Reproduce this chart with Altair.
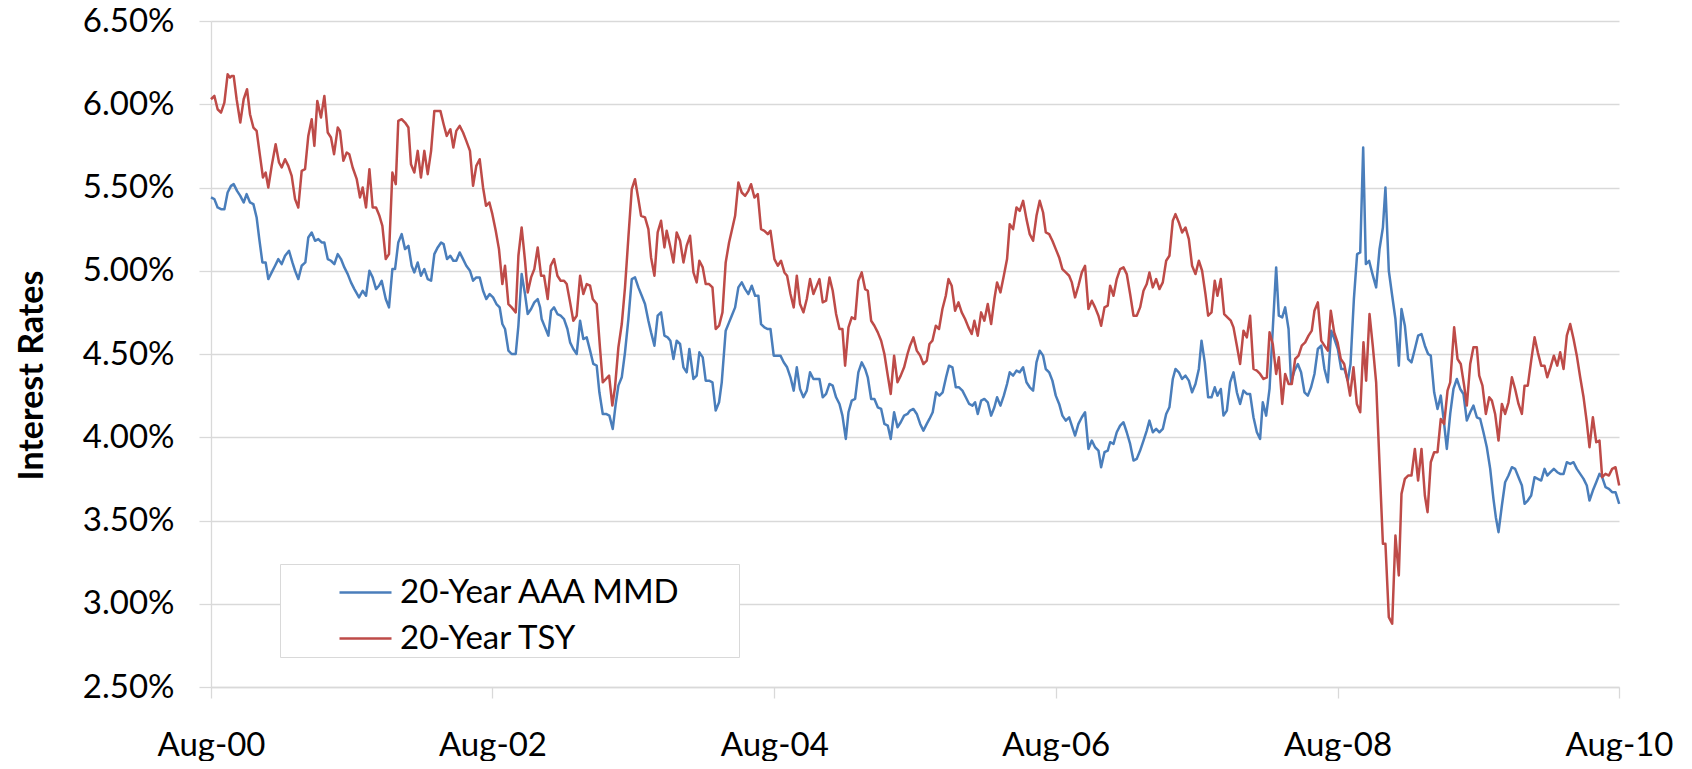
import altair as alt
import pandas as pd

SERIES = ["20-Year AAA MMD", "20-Year TSY"]
COLORS = ["#4A7EBB", "#BE4B48"]
START = "2000-08-01"
TICK_YEARS = [2000, 2002, 2004, 2006, 2008, 2010]
Y_TICKS = [2.5, 3.0, 3.5, 4.0, 4.5, 5.0, 5.5, 6.0, 6.5]
FONT = "Lato"

# years elapsed since Aug-00
MMD_YEARS = [
    0.0, 0.024, 0.047, 0.071, 0.095, 0.118, 0.142, 0.161, 0.185, 0.208, 0.232, 0.253, 0.277, 0.301, 0.324,
    0.343, 0.365, 0.388, 0.407, 0.431, 0.455, 0.478, 0.502, 0.526, 0.554, 0.578, 0.597, 0.620, 0.644, 0.670,
    0.691, 0.715, 0.739, 0.762, 0.786, 0.805, 0.829, 0.852, 0.876, 0.900, 0.923, 0.947, 0.971, 0.994, 1.018,
    1.051, 1.077, 1.101, 1.125, 1.148, 1.172, 1.193, 1.212, 1.241, 1.264,
    1.288, 1.307, 1.330, 1.354, 1.378, 1.402, 1.425, 1.444, 1.468, 1.491, 1.515, 1.539, 1.563, 1.586, 1.610,
    1.634, 1.652, 1.676, 1.700, 1.721, 1.742, 1.766, 1.790, 1.813, 1.839, 1.861, 1.884, 1.908, 1.932, 1.955,
    1.979, 2.003, 2.027, 2.050, 2.069, 2.088, 2.112, 2.135, 2.164, 2.183, 2.206, 2.230, 2.249, 2.273, 2.296,
    2.320, 2.337, 2.348, 2.372, 2.396, 2.415, 2.436, 2.460, 2.483, 2.507, 2.531, 2.550,
    2.573, 2.597, 2.621, 2.644, 2.668, 2.692, 2.715, 2.739, 2.758, 2.782, 2.805, 2.829, 2.853, 2.874, 2.893,
    2.917, 2.940, 2.964, 2.988, 3.011, 3.035, 3.059, 3.082, 3.106, 3.125, 3.149, 3.172, 3.196, 3.220, 3.243,
    3.262, 3.284, 3.307, 3.331, 3.355, 3.378, 3.397, 3.426, 3.449, 3.468, 3.492, 3.513, 3.537, 3.561, 3.584,
    3.608, 3.627, 3.655, 3.679, 3.698, 3.722, 3.745, 3.769, 3.793, 3.816,
    3.840, 3.864, 3.887, 3.906, 3.930, 3.954, 3.973, 3.996, 4.020, 4.044, 4.067, 4.091, 4.115, 4.138, 4.160,
    4.183, 4.207, 4.231, 4.254, 4.278, 4.297, 4.321, 4.344, 4.368, 4.392, 4.415, 4.439, 4.463, 4.484, 4.508,
    4.527, 4.550, 4.574, 4.597, 4.621, 4.645, 4.664, 4.688, 4.711, 4.735, 4.759, 4.782, 4.806, 4.827, 4.851,
    4.875, 4.898, 4.922, 4.946, 4.964, 4.988, 5.012, 5.036, 5.059, 5.083, 5.102,
    5.125, 5.149, 5.173, 5.196, 5.220, 5.241, 5.265, 5.289, 5.312, 5.336, 5.360, 5.384, 5.407, 5.426, 5.445,
    5.469, 5.492, 5.516, 5.540, 5.563, 5.582, 5.606, 5.630, 5.653, 5.672, 5.696, 5.720, 5.743, 5.767, 5.791,
    5.814, 5.838, 5.862, 5.885, 5.909, 5.928, 5.952, 5.975, 5.999, 6.023, 6.046, 6.070, 6.094, 6.113, 6.136,
    6.160, 6.184, 6.207, 6.231, 6.255, 6.278, 6.302, 6.321, 6.345, 6.368, 6.385,
    6.409, 6.432, 6.456, 6.480, 6.503, 6.527, 6.551, 6.574, 6.598, 6.622, 6.645, 6.664, 6.688, 6.712, 6.735,
    6.759, 6.783, 6.806, 6.830, 6.849, 6.873, 6.896, 6.920, 6.944, 6.967, 6.991, 7.015, 7.034, 7.057, 7.081,
    7.105, 7.128, 7.147, 7.171, 7.190, 7.214, 7.237, 7.261, 7.285, 7.308, 7.332, 7.356, 7.379, 7.403, 7.427,
    7.450, 7.469, 7.493, 7.517, 7.540, 7.564, 7.583, 7.607,
    7.628, 7.652, 7.670, 7.694, 7.718, 7.741, 7.765, 7.789, 7.812, 7.836, 7.860, 7.884, 7.907, 7.931, 7.955,
    7.978, 8.002, 8.026, 8.049, 8.073, 8.092, 8.116, 8.139, 8.161, 8.182, 8.201, 8.224, 8.248, 8.274, 8.298,
    8.322, 8.340, 8.364, 8.388, 8.411, 8.435, 8.454, 8.478, 8.501, 8.525, 8.549, 8.572, 8.596, 8.620, 8.643,
    8.662, 8.686, 8.710, 8.733, 8.757, 8.776, 8.800, 8.823, 8.847, 8.871, 8.894, 8.918,
    8.942, 8.965, 8.989, 9.013, 9.036, 9.060, 9.084, 9.107, 9.124, 9.143, 9.167, 9.190, 9.214, 9.238, 9.261,
    9.285, 9.309, 9.328, 9.351, 9.375, 9.399, 9.422, 9.446, 9.470, 9.489, 9.512, 9.536, 9.560, 9.581, 9.605,
    9.628, 9.652, 9.676, 9.699, 9.723, 9.747, 9.770, 9.789, 9.813, 9.837, 9.860, 9.879, 9.903, 9.927, 9.950,
    9.974, 10.000,
]
MMD_RATES = [
    5.44, 5.43, 5.38, 5.37, 5.37, 5.47, 5.51, 5.52, 5.48, 5.45, 5.41, 5.46, 5.41, 5.40, 5.32,
    5.19, 5.05, 5.05, 4.95, 4.99, 5.03, 5.07, 5.04, 5.09, 5.12, 5.05, 5.00, 4.95, 5.03, 5.05,
    5.20, 5.23, 5.18, 5.19, 5.17, 5.17, 5.07, 5.06, 5.04, 5.10, 5.07, 5.02, 4.98, 4.93, 4.89,
    4.84, 4.88, 4.85, 5.00, 4.96, 4.89, 4.91, 4.94, 4.83, 4.78,
    5.01, 5.01, 5.17, 5.22, 5.13, 5.15, 5.03, 4.99, 5.05, 4.97, 5.01, 4.95, 4.94, 5.10, 5.14,
    5.17, 5.16, 5.07, 5.09, 5.06, 5.06, 5.11, 5.07, 5.03, 5.00, 4.94, 4.96, 4.96, 4.88, 4.83,
    4.86, 4.84, 4.80, 4.78, 4.68, 4.65, 4.52, 4.50, 4.50, 4.67, 4.98, 4.86, 4.74, 4.77, 4.81,
    4.83, 4.78, 4.71, 4.66, 4.61, 4.76, 4.78, 4.74, 4.73, 4.71, 4.65, 4.57,
    4.53, 4.50, 4.70, 4.59, 4.60, 4.52, 4.44, 4.43, 4.27, 4.14, 4.14, 4.13, 4.05, 4.20, 4.31,
    4.36, 4.51, 4.71, 4.95, 4.96, 4.90, 4.85, 4.80, 4.70, 4.63, 4.55, 4.73, 4.75, 4.61, 4.60,
    4.58, 4.47, 4.58, 4.56, 4.42, 4.39, 4.53, 4.35, 4.37, 4.51, 4.48, 4.34, 4.34, 4.33, 4.16,
    4.21, 4.33, 4.64, 4.69, 4.73, 4.78, 4.90, 4.93, 4.89, 4.86,
    4.91, 4.85, 4.85, 4.68, 4.66, 4.65, 4.65, 4.49, 4.49, 4.49, 4.45, 4.42, 4.36, 4.28, 4.42,
    4.29, 4.24, 4.28, 4.39, 4.35, 4.35, 4.35, 4.24, 4.26, 4.32, 4.31, 4.24, 4.20, 4.13, 3.99,
    4.15, 4.22, 4.23, 4.39, 4.45, 4.41, 4.36, 4.23, 4.23, 4.18, 4.17, 4.08, 4.07, 3.99, 4.15,
    4.06, 4.09, 4.13, 4.14, 4.16, 4.17, 4.14, 4.08, 4.04, 4.08, 4.11,
    4.15, 4.27, 4.25, 4.27, 4.36, 4.43, 4.42, 4.30, 4.30, 4.28, 4.24, 4.20, 4.19, 4.21, 4.14,
    4.22, 4.23, 4.21, 4.13, 4.18, 4.24, 4.19, 4.25, 4.32, 4.39, 4.37, 4.40, 4.39, 4.42, 4.33,
    4.30, 4.28, 4.45, 4.52, 4.49, 4.41, 4.39, 4.34, 4.25, 4.20, 4.13, 4.10, 4.12, 4.07, 4.01,
    4.08, 4.12, 4.15, 3.93, 3.98, 3.94, 3.92, 3.82, 3.91, 3.92, 3.97,
    3.96, 4.03, 4.07, 4.09, 4.03, 3.96, 3.86, 3.87, 3.92, 3.98, 4.04, 4.10, 4.03, 4.05, 4.03,
    4.05, 4.14, 4.18, 4.35, 4.41, 4.39, 4.35, 4.37, 4.34, 4.27, 4.32, 4.41, 4.58, 4.45, 4.24,
    4.24, 4.30, 4.25, 4.29, 4.13, 4.16, 4.33, 4.39, 4.27, 4.20, 4.28, 4.26, 4.26, 4.12, 4.03,
    3.99, 4.21, 4.13, 4.29, 4.65, 5.02, 4.73, 4.72,
    4.78, 4.65, 4.33, 4.40, 4.44, 4.39, 4.27, 4.25, 4.30, 4.38, 4.53, 4.55, 4.41, 4.33, 4.64,
    4.59, 4.53, 4.41, 4.41, 4.34, 4.44, 4.83, 5.10, 5.11, 5.74, 5.04, 5.06, 4.98, 4.90, 5.13,
    5.26, 5.50, 5.00, 4.85, 4.71, 4.43, 4.77, 4.67, 4.47, 4.45, 4.53, 4.61, 4.62, 4.55, 4.50,
    4.49, 4.27, 4.17, 4.25, 4.08, 3.93, 4.14, 4.29, 4.35, 4.29, 4.26, 4.10,
    4.15, 4.19, 4.12, 4.11, 4.03, 3.94, 3.81, 3.63, 3.52, 3.43, 3.59, 3.73, 3.77, 3.82, 3.81,
    3.76, 3.71, 3.60, 3.62, 3.65, 3.76, 3.75, 3.74, 3.81, 3.77, 3.79, 3.81, 3.79, 3.78, 3.78,
    3.85, 3.84, 3.85, 3.81, 3.78, 3.75, 3.71, 3.62, 3.68, 3.73, 3.78, 3.76, 3.70, 3.69, 3.67,
    3.67, 3.60,
]

TSY_YEARS = [
    0.0, 0.024, 0.047, 0.071, 0.095, 0.118, 0.135, 0.147, 0.161, 0.182, 0.208, 0.232, 0.256, 0.277, 0.301,
    0.324, 0.348, 0.369, 0.388, 0.407, 0.431, 0.459, 0.483, 0.502, 0.526, 0.549, 0.573, 0.597, 0.620, 0.644,
    0.668, 0.691, 0.715, 0.734, 0.755, 0.781, 0.805, 0.829, 0.852, 0.874, 0.900, 0.916, 0.940, 0.964, 0.982,
    1.006, 1.035, 1.058, 1.077, 1.101, 1.125, 1.148, 1.172, 1.196, 1.217, 1.241, 1.264,
    1.288, 1.312, 1.330, 1.354, 1.378, 1.402, 1.420, 1.444, 1.468, 1.491, 1.515, 1.539, 1.563, 1.586, 1.610,
    1.629, 1.652, 1.674, 1.700, 1.721, 1.742, 1.766, 1.790, 1.813, 1.839, 1.861, 1.884, 1.908, 1.932, 1.953,
    1.977, 1.998, 2.022, 2.045, 2.069, 2.088, 2.112, 2.135, 2.164, 2.183, 2.206, 2.230, 2.249, 2.273, 2.296,
    2.320, 2.344, 2.365, 2.391, 2.412, 2.436, 2.460, 2.483, 2.507, 2.526, 2.550,
    2.573, 2.597, 2.621, 2.644, 2.668, 2.692, 2.711, 2.739, 2.763, 2.782, 2.805, 2.827, 2.850, 2.869, 2.893,
    2.917, 2.940, 2.964, 2.988, 3.011, 3.035, 3.054, 3.082, 3.106, 3.125, 3.149, 3.172, 3.196, 3.220, 3.236,
    3.260, 3.284, 3.307, 3.331, 3.355, 3.378, 3.402, 3.426, 3.449, 3.468, 3.492, 3.513, 3.537, 3.561, 3.584,
    3.608, 3.632, 3.655, 3.679, 3.698, 3.722, 3.745, 3.769, 3.793, 3.816,
    3.835, 3.859, 3.883, 3.906, 3.930, 3.954, 3.973, 4.001, 4.025, 4.048, 4.072, 4.091, 4.115, 4.138, 4.160,
    4.183, 4.207, 4.231, 4.254, 4.278, 4.297, 4.321, 4.344, 4.368, 4.392, 4.415, 4.439, 4.463, 4.484, 4.503,
    4.527, 4.550, 4.574, 4.597, 4.621, 4.645, 4.664, 4.688, 4.711, 4.735, 4.759, 4.782, 4.806, 4.827, 4.851,
    4.875, 4.898, 4.922, 4.946, 4.964, 4.988, 5.012, 5.036, 5.059, 5.083, 5.102,
    5.123, 5.147, 5.170, 5.194, 5.218, 5.237, 5.260, 5.284, 5.308, 5.331, 5.355, 5.379, 5.402, 5.421, 5.445,
    5.469, 5.492, 5.516, 5.540, 5.563, 5.582, 5.606, 5.630, 5.653, 5.672, 5.696, 5.720, 5.743, 5.767, 5.791,
    5.814, 5.838, 5.862, 5.885, 5.909, 5.928, 5.952, 5.975, 5.999, 6.023, 6.046, 6.070, 6.094, 6.113, 6.136,
    6.160, 6.184, 6.207, 6.231, 6.255, 6.278, 6.302, 6.321, 6.345, 6.368, 6.385,
    6.409, 6.432, 6.456, 6.480, 6.503, 6.527, 6.551, 6.574, 6.598, 6.622, 6.645, 6.664, 6.688, 6.712, 6.735,
    6.759, 6.783, 6.806, 6.830, 6.849, 6.873, 6.896, 6.920, 6.944, 6.967, 6.991, 7.015, 7.038, 7.062, 7.081,
    7.105, 7.128, 7.147, 7.171, 7.195, 7.218, 7.242, 7.261, 7.285, 7.308, 7.332, 7.356, 7.379, 7.403, 7.427,
    7.450, 7.474, 7.498, 7.517, 7.540, 7.564, 7.583, 7.607,
    7.628, 7.652, 7.675, 7.699, 7.723, 7.746, 7.770, 7.794, 7.817, 7.836, 7.860, 7.884, 7.907, 7.931, 7.952,
    7.976, 8.000, 8.023, 8.047, 8.071, 8.089, 8.113, 8.137, 8.161, 8.184, 8.203, 8.227, 8.250, 8.274, 8.298,
    8.322, 8.340, 8.364, 8.388, 8.411, 8.435, 8.454, 8.478, 8.501, 8.525, 8.549, 8.572, 8.596, 8.620, 8.639,
    8.662, 8.686, 8.710, 8.733, 8.757, 8.781, 8.800, 8.828, 8.852, 8.875, 8.899, 8.918,
    8.942, 8.965, 8.989, 9.006, 9.029, 9.053, 9.077, 9.096, 9.119, 9.143, 9.167, 9.190, 9.214, 9.238, 9.261,
    9.285, 9.309, 9.328, 9.351, 9.375, 9.399, 9.422, 9.446, 9.470, 9.489, 9.512, 9.536, 9.560, 9.581, 9.605,
    9.628, 9.652, 9.676, 9.699, 9.723, 9.747, 9.770, 9.789, 9.813, 9.837, 9.860, 9.879, 9.903, 9.927, 9.950,
    9.974, 10.000,
]
TSY_RATES = [
    6.03, 6.05, 5.97, 5.95, 6.01, 6.18, 6.16, 6.17, 6.17, 6.03, 5.89, 6.03, 6.09, 5.94, 5.86,
    5.84, 5.69, 5.56, 5.59, 5.50, 5.63, 5.76, 5.65, 5.62, 5.67, 5.63, 5.57, 5.43, 5.38, 5.60,
    5.61, 5.81, 5.91, 5.75, 6.02, 5.92, 6.05, 5.83, 5.80, 5.70, 5.86, 5.84, 5.66, 5.71, 5.70,
    5.62, 5.55, 5.44, 5.50, 5.38, 5.61, 5.38, 5.38, 5.33, 5.27, 5.07, 5.10,
    5.59, 5.52, 5.90, 5.91, 5.89, 5.86, 5.64, 5.59, 5.72, 5.56, 5.72, 5.58, 5.72, 5.96, 5.96,
    5.96, 5.88, 5.81, 5.85, 5.74, 5.84, 5.87, 5.83, 5.78, 5.72, 5.51, 5.63, 5.67, 5.50, 5.39,
    5.41, 5.34, 5.24, 5.13, 4.92, 5.03, 4.80, 4.78, 4.75, 5.09, 5.26, 5.06, 4.87, 4.96, 5.01,
    5.14, 4.97, 4.97, 4.83, 5.03, 5.07, 4.97, 4.94, 4.94, 4.92, 4.81,
    4.70, 4.73, 4.97, 4.86, 4.92, 4.91, 4.83, 4.80, 4.53, 4.33, 4.35, 4.37, 4.19, 4.30, 4.54,
    4.68, 4.90, 5.20, 5.49, 5.55, 5.43, 5.33, 5.32, 5.25, 5.08, 4.97, 5.23, 5.30, 5.14, 5.24,
    5.15, 5.05, 5.23, 5.18, 5.05, 5.15, 5.21, 4.99, 4.93, 5.06, 5.02, 4.92, 4.92, 4.90, 4.65,
    4.67, 4.75, 5.05, 5.17, 5.24, 5.33, 5.53, 5.47, 5.45, 5.48,
    5.52, 5.44, 5.46, 5.25, 5.24, 5.22, 5.24, 5.07, 5.03, 5.06, 4.99, 4.97, 4.86, 4.78, 4.97,
    4.80, 4.75, 4.83, 4.95, 4.86, 4.90, 4.95, 4.81, 4.82, 4.96, 4.88, 4.74, 4.65, 4.65, 4.43,
    4.66, 4.72, 4.71, 4.94, 4.99, 4.89, 4.88, 4.70, 4.67, 4.63, 4.58, 4.50, 4.37, 4.26, 4.49,
    4.33, 4.37, 4.42, 4.50, 4.55, 4.60, 4.52, 4.49, 4.44, 4.46, 4.56,
    4.58, 4.67, 4.65, 4.77, 4.85, 4.95, 4.91, 4.76, 4.81, 4.75, 4.71, 4.66, 4.62, 4.70, 4.61,
    4.75, 4.70, 4.80, 4.68, 4.83, 4.93, 4.87, 4.97, 5.07, 5.28, 5.25, 5.38, 5.36, 5.42, 5.31,
    5.22, 5.18, 5.33, 5.42, 5.35, 5.23, 5.22, 5.18, 5.13, 5.08, 5.01, 4.99, 4.97, 4.93, 4.84,
    4.91, 4.99, 5.03, 4.77, 4.82, 4.78, 4.73, 4.67, 4.78, 4.79, 4.91,
    4.85, 4.95, 5.01, 5.02, 4.98, 4.86, 4.73, 4.73, 4.78, 4.88, 4.92, 4.99, 4.90, 4.95, 4.89,
    4.93, 5.06, 5.09, 5.30, 5.34, 5.29, 5.23, 5.26, 5.19, 5.03, 4.98, 5.06, 5.00, 4.86, 4.73,
    4.75, 4.94, 4.85, 4.95, 4.74, 4.72, 4.70, 4.66, 4.55, 4.44, 4.64, 4.60, 4.73, 4.41, 4.40,
    4.38, 4.35, 4.36, 4.63, 4.56, 4.38, 4.48, 4.20,
    4.38, 4.32, 4.32, 4.47, 4.49, 4.55, 4.57, 4.61, 4.64, 4.76, 4.81, 4.58, 4.55, 4.52, 4.76,
    4.63, 4.57, 4.47, 4.44, 4.34, 4.25, 4.42, 4.20, 4.15, 4.57, 4.34, 4.74, 4.55, 4.33, 3.84,
    3.36, 3.36, 2.92, 2.88, 3.41, 3.17, 3.66, 3.75, 3.77, 3.77, 3.93, 3.74, 3.93, 3.65, 3.55,
    3.85, 3.91, 3.91, 4.11, 4.08, 4.28, 4.33, 4.66, 4.47, 4.44, 4.31, 4.19,
    4.44, 4.54, 4.54, 4.37, 4.31, 4.14, 4.24, 4.22, 4.14, 3.98, 4.20, 4.14, 4.21, 4.36, 4.29,
    4.20, 4.14, 4.31, 4.31, 4.46, 4.60, 4.51, 4.43, 4.43, 4.36, 4.42, 4.49, 4.43, 4.51, 4.41,
    4.61, 4.68, 4.59, 4.49, 4.36, 4.24, 4.09, 3.94, 4.12, 3.97, 3.98, 3.76, 3.78, 3.77, 3.81,
    3.82, 3.71,
]

assert len(MMD_YEARS) == len(MMD_RATES), (len(MMD_YEARS), len(MMD_RATES))
assert len(TSY_YEARS) == len(TSY_RATES), (len(TSY_YEARS), len(TSY_RATES))


def frame(name, years, rates):
    start = pd.Timestamp(START)
    dates = [start + pd.Timedelta(days=y * 365.25) for y in years]
    return pd.DataFrame({"date": dates, "rate": rates, "series": name})


df = pd.concat(
    [frame(SERIES[0], MMD_YEARS, MMD_RATES), frame(SERIES[1], TSY_YEARS, TSY_RATES)],
    ignore_index=True,
)

GRID = "#D9D9D9"

chart = (
    alt.Chart(df)
    .mark_line(strokeWidth=2.5, strokeJoin="round")
    .encode(
        x=alt.X(
            "date:T",
            scale=alt.Scale(
                domain=[
                    alt.DateTime(year=TICK_YEARS[0], month=8, date=1),
                    alt.DateTime(year=TICK_YEARS[-1], month=8, date=1),
                ]
            ),
            axis=alt.Axis(
                values=[alt.DateTime(year=y, month=8, date=1) for y in TICK_YEARS],
                format="%b-%y",
                title=None,
                grid=False,
                domainColor=GRID,
                domainWidth=1.3,
                tickColor=GRID,
                tickWidth=1.3,
                tickSize=11,
                labelFont=FONT,
                labelFontSize=33,
                labelColor="black",
                labelBaseline="alphabetic",
                labelPadding=57,
                labelFlush=False,
                labelOverlap=False,
            ),
        ),
        y=alt.Y(
            "rate:Q",
            scale=alt.Scale(domain=[Y_TICKS[0], Y_TICKS[-1]], nice=False, zero=False),
            axis=alt.Axis(
                values=Y_TICKS,
                labelExpr="format(datum.value, '.2f') + '%'",
                title="Interest Rates",
                titleFont=FONT,
                titleFontSize=34,
                titleFontWeight="bold",
                titleColor="black",
                titleAngle=270,
                titleX=-169,
                titleY=354,
                titleBaseline="alphabetic",
                titleAlign="center",
                grid=True,
                gridColor=GRID,
                gridWidth=1.3,
                domainColor=GRID,
                domainWidth=1.3,
                tickColor=GRID,
                tickWidth=1.3,
                tickSize=12,
                labelFont=FONT,
                labelFontSize=33,
                labelColor="black",
                labelPadding=25,
                labelFlush=False,
                labelOverlap=False,
            ),
        ),
        color=alt.Color(
            "series:N",
            scale=alt.Scale(domain=SERIES, range=COLORS),
            legend=alt.Legend(
                title="00",
                titleOrient="right",
                titleFont=FONT,
                titleFontSize=47,
                titleOpacity=0,
                titlePadding=1,
                orient="none",
                legendX=69,
                legendY=543,
                direction="vertical",
                symbolType="stroke",
                symbolSize=2704,
                symbolStrokeWidth=2.5,
                symbolOffset=57,
                labelOffset=7,
                labelFont=FONT,
                labelFontSize=33,
                labelColor="black",
                labelLimit=1000,
                padding=1,
                rowPadding=1,
                strokeColor=GRID,
                fillColor="white",
            ),
        ),
    )
    .properties(
        width=1408,
        height=666,
        autosize=alt.AutoSizeParams(type="none"),
        padding={"left": 203, "top": 13, "right": 60, "bottom": 74},
        background="white",
    )
    .configure_view(strokeWidth=0)
)

chart.save("out.html", embed_options={"renderer": "svg", "actions": False})
